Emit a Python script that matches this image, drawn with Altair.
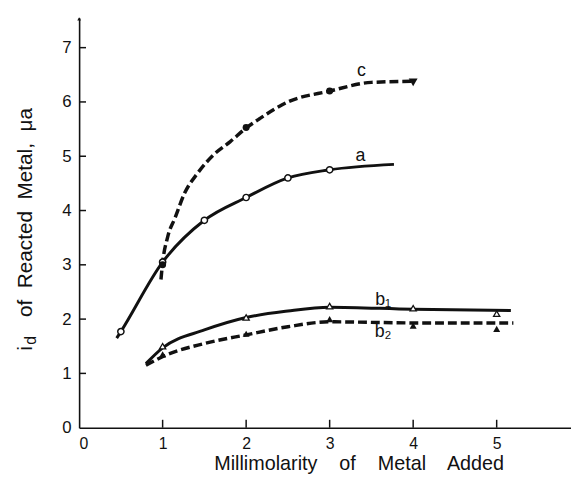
import altair as alt
import pandas as pd

# ---- data ----
a_line_x = [0.45, 0.5, 1.0, 1.5, 2.0, 2.5, 3.0, 3.77]
a_line_y = [1.65, 1.77, 3.05, 3.82, 4.24, 4.6, 4.75, 4.85]
a_pts_x = [0.5, 1.0, 1.5, 2.0, 2.5, 3.0]
a_pts_y = [1.77, 3.05, 3.82, 4.24, 4.6, 4.75]

c_line_x = [0.98, 1.0, 1.06, 1.15, 1.26, 1.42, 1.62, 1.81, 2.0, 2.16, 2.5, 3.0, 3.5, 4.0]
c_line_y = [2.73, 3.04, 3.51, 3.87, 4.31, 4.69, 5.04, 5.27, 5.52, 5.69, 6.0, 6.2, 6.36, 6.38]
c_pts_x = [1.0, 2.0, 3.0]
c_pts_y = [3.0, 5.53, 6.2]
c_end_x = [4.0]
c_end_y = [6.36]

b1_line_x = [0.8, 1.0, 1.5, 2.0, 2.5, 3.0, 4.0, 5.17]
b1_line_y = [1.18, 1.47, 1.8, 2.03, 2.15, 2.22, 2.18, 2.16]
b1_pts_x = [1.0, 2.0, 3.0, 4.0, 5.0]
b1_pts_y = [1.5, 2.03, 2.24, 2.2, 2.1]

b2_line_x = [0.8, 1.03, 1.5, 2.0, 2.5, 3.0, 4.0, 5.2]
b2_line_y = [1.15, 1.33, 1.55, 1.71, 1.86, 1.95, 1.93, 1.93]
b2_pts_x = [1.0, 2.0, 3.0, 4.0, 5.0]
b2_pts_y = [1.35, 1.73, 2.0, 1.88, 1.82]

curve_labels = ["c", "a", "b\u2081", "b\u2082"]
curve_label_x = [3.38, 3.37, 3.64, 3.64]
curve_label_y = [6.56, 5.0, 2.35, 1.76]

x_ticks = [0, 1, 2, 3, 4, 5]
y_ticks = [0, 1, 2, 3, 4, 5, 6, 7]

INK = "#111111"
FONT = "Liberation Sans"

xs = alt.Scale(domain=[0, 5.89], nice=False, zero=False)
ys = alt.Scale(domain=[0, 7.55], nice=False, zero=False)

NB = "\u00a0"
x_title = f"Millimolarity{NB}{NB}{NB} of{NB}{NB}{NB} Metal{NB}{NB}{NB} Added"


def X(**kw):
    return alt.X("x:Q", scale=xs, **kw)


def Y(**kw):
    return alt.Y("y:Q", scale=ys, **kw)


def df(x, y):
    return pd.DataFrame({"x": x, "y": y})


base_x = X(
    axis=alt.Axis(
        values=x_ticks, format="d", ticks=False, grid=False, domainColor=INK, domainWidth=1.6,
        labelFont=FONT, labelFontSize=16, labelColor=INK, labelPadding=8,
        title=x_title, titleFont=FONT, titleFontSize=20, titleFontWeight="normal",
        titleColor=INK, titleX=283, titleY=42, titleAlign="center",
        titleBaseline="alphabetic", titleAnchor="start",
    )
)
base_y = Y(
    axis=alt.Axis(
        values=y_ticks, format="d", ticks=False, grid=False, domainColor=INK, domainWidth=1.6,
        labelFont=FONT, labelFontSize=17, labelColor=INK, labelPadding=8,
        title="",
    )
)

line_a = alt.Chart(df(a_line_x, a_line_y)).mark_line(
    color=INK, strokeWidth=3, interpolate="monotone"
).encode(x=base_x, y=base_y)

line_c = alt.Chart(df(c_line_x, c_line_y)).mark_line(
    color=INK, strokeWidth=3.5, strokeDash=[9, 4], interpolate="monotone"
).encode(x=X(), y=Y())

line_b1 = alt.Chart(df(b1_line_x, b1_line_y)).mark_line(
    color=INK, strokeWidth=3, interpolate="monotone"
).encode(x=X(), y=Y())

line_b2 = alt.Chart(df(b2_line_x, b2_line_y)).mark_line(
    color=INK, strokeWidth=3.5, strokeDash=[9, 4], interpolate="monotone"
).encode(x=X(), y=Y())

pts_a = alt.Chart(df(a_pts_x, a_pts_y)).mark_point(
    shape="circle", filled=True, fill="white", stroke=INK, strokeWidth=1.5, size=40, opacity=1
).encode(x=X(), y=Y())

pts_c = alt.Chart(df(c_pts_x, c_pts_y)).mark_point(
    shape="circle", filled=True, color=INK, size=50, opacity=1
).encode(x=X(), y=Y())

end_c = alt.Chart(df(c_end_x, c_end_y)).mark_point(
    shape="triangle-down", filled=True, color=INK, size=80, opacity=1
).encode(x=X(), y=Y())

pts_b1 = alt.Chart(df(b1_pts_x, b1_pts_y)).mark_point(
    shape="triangle-up", filled=True, fill="white", stroke=INK, strokeWidth=1.3, size=40, opacity=1
).encode(x=X(), y=Y())

pts_b2 = alt.Chart(df(b2_pts_x, b2_pts_y)).mark_point(
    shape="triangle-up", filled=True, color=INK, size=50, opacity=1
).encode(x=X(), y=Y())

labels = alt.Chart(
    pd.DataFrame({"x": curve_label_x, "y": curve_label_y, "t": curve_labels})
).mark_text(font=FONT, fontSize=18, color=INK, align="center", baseline="middle").encode(
    x=X(), y=Y(), text="t:N"
)

ytick_rules = alt.Chart(pd.DataFrame({"y": y_ticks[1:]})).mark_rule(
    color=INK, strokeWidth=1.5
).encode(y=Y(), x=alt.value(0), x2=alt.value(7))

xtick_rules = alt.Chart(pd.DataFrame({"x": x_ticks[1:]})).mark_rule(
    color=INK, strokeWidth=1.5
).encode(x=X(), y=alt.value(415), y2=alt.value(407))

arrow = alt.Chart(pd.DataFrame({"k": [0]})).mark_point(
    shape="triangle-up", filled=True, color=INK, size=14, opacity=1
).encode(x=alt.value(0), y=alt.value(1))

ytitle_main = alt.Chart(pd.DataFrame({"t": [f"of{NB} Reacted{NB} Metal,{NB} \u03bca"]})).mark_text(
    font=FONT, fontSize=21, color=INK, angle=270, align="left", baseline="alphabetic"
).encode(text="t:N", x=alt.value(-48), y=alt.value(303))

ytitle_i = alt.Chart(pd.DataFrame({"t": ["i"]})).mark_text(
    font=FONT, fontSize=21, color=INK, angle=270, align="left", baseline="alphabetic"
).encode(text="t:N", x=alt.value(-48), y=alt.value(337))

ytitle_d = alt.Chart(pd.DataFrame({"t": ["d"]})).mark_text(
    font=FONT, fontSize=16, color=INK, angle=270, align="left", baseline="alphabetic"
).encode(text="t:N", x=alt.value(-44), y=alt.value(331))

chart = alt.layer(
    line_a, line_c, line_b1, line_b2,
    pts_a, pts_c, end_c, pts_b1, pts_b2,
    labels, ytick_rules, xtick_rules, arrow,
    ytitle_main, ytitle_i, ytitle_d,
).properties(
    width=498, height=415,
    autosize=alt.AutoSizeParams(type="none"),
    padding={"left": 72, "top": 7, "right": 0, "bottom": 46},
    background="white",
).configure_view(stroke=None)

chart.save("out.html", embed_options={"renderer": "svg", "actions": False})
